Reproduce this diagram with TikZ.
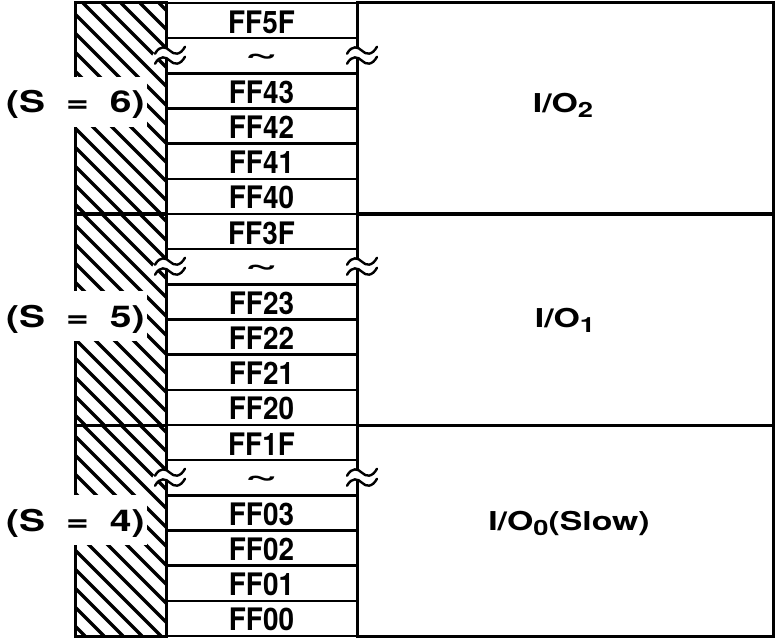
\documentclass[tikz,border=0pt]{standalone}
\usepackage{fontspec}
\newfontfamily\heros{TeX Gyre Heros}
\newfontfamily\herostall[FakeStretch=0.9]{TeX Gyre Heros}
\newfontfamily\heroswide[FakeStretch=1.3]{TeX Gyre Heros}
\newfontfamily\heroslong[FakeStretch=1.9]{TeX Gyre Heros}
\newcommand{\addrfont}{\herostall\bfseries\fontsize{31pt}{31pt}\selectfont}
\newcommand{\bankfont}{\heroswide\bfseries\fontsize{30pt}{30pt}\selectfont}
\newcommand{\iofont}{\heroswide\bfseries\fontsize{26pt}{26pt}\selectfont}
\newcommand{\gapfont}{\heroslong\bfseries\fontsize{30pt}{30pt}\selectfont}
\newcommand{\iosub}[1]{\raisebox{-5pt}{\fontsize{21pt}{21pt}\selectfont #1}}

\begin{document}
\begin{tikzpicture}[x=1pt,y=-1pt,
  frame/.style={draw,line width=3pt,inner sep=0pt,outer sep=0pt,anchor=north west},
  pad/.style={frame,minimum width=91pt,minimum height=211pt},
  hatch/.style={line width=3.5pt},
  iobox/.style={frame,minimum width=416pt,minimum height=211pt},
  addr/.style={frame,line width=2.6pt,minimum width=191pt,minimum height=35.17pt,
               text height=29pt,text depth=4pt,font=\addrfont},
  gap/.style={addr,text height=24pt,text depth=9pt,font=\gapfont},
  bank/.style={fill=white,inner xsep=2pt,inner ysep=0pt,text height=36pt,
               text depth=14pt,anchor=west,font=\bankfont},
  iolabel/.style={anchor=base,font=\iofont},
  pics/brk/.style={code={
    \draw[white,line width=8pt] (-15,3) .. controls (-10,-6) and (-4,-4) .. (0,0)
      .. controls (4,4) and (10,5) .. (15,-4);
    \foreach \dy in {-5,5}
      \draw[line width=2.4pt,line cap=round] (-15,{3+\dy}) .. controls (-10,{-6+\dy})
        and (-4,{-4+\dy}) .. (0,\dy) .. controls (4,{4+\dy}) and (10,{5+\dy}) .. (15,{-4+\dy});
  }}
]
\useasboundingbox (0,0) rectangle (776,639);

% Three banks: hatched pad, address cells, I/O area.
\foreach \s/\top/\hi/\ra/\rb/\rc/\rd in {6/3/FF5F/FF43/FF42/FF41/FF40,
                                         5/214/FF3F/FF23/FF22/FF21/FF20,
                                         4/425/FF1F/FF03/FF02/FF01/FF00}{
  \begin{scope}
    \clip (75,\top) rectangle ++(91,211);
    \foreach \hx in {-145,-126,...,166}
      \draw[hatch] (\hx,\top) -- ++(211,211);
  \end{scope}
  \node[pad] (pad\s) at (75,\top) {};
  \node[addr] (a\s-0) at (166,\top) {\hi};
  \node[gap] (a\s-1) at (166,{\top+35.1667}) {\textasciitilde};
  \foreach \a [count=\i from 2] in {\ra,\rb,\rc,\rd}
    \node[addr] (a\s-\i) at (166,{\top+\i*35.1667}) {\a};
  \node[iobox] (port\s) at (357,\top) {};
  \pic at ([xshift=4pt]a\s-1.west) {brk};
  \pic at ([xshift=5pt]a\s-1.east) {brk};
}

% Bank labels.
\node[bank] (bank6) at (4,102) {(S\hspace{0.7em}=\hspace{0.7em}6)};
\node[bank] (bank5) at (4,316) {(S\hspace{0.7em}=\hspace{0.7em}5)};
\node[bank] (bank4) at (4,520) {(S\hspace{0.7em}=\hspace{0.7em}4)};

\node[iolabel] (io2) at (563,113) {I/O\iosub{2}};
\node[iolabel] (io1) at (565,327) {I/O\iosub{1}};
\node[iolabel] (io0) at (569,530) {I/O\iosub{0}(Slow)};
\end{tikzpicture}
\end{document}
